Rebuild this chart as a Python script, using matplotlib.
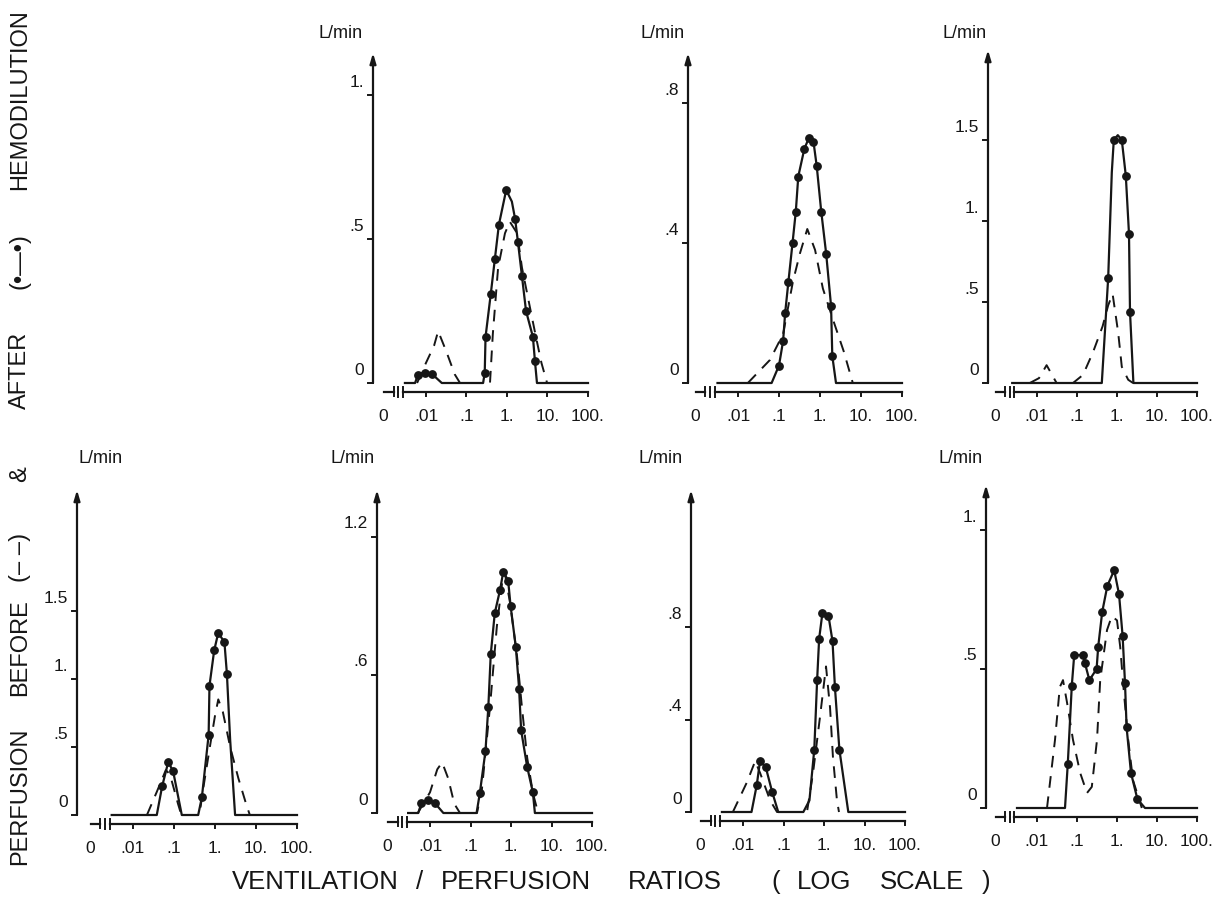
import numpy as np
import matplotlib
matplotlib.use('Agg')
import matplotlib.pyplot as plt

plt.rcParams['font.family'] = ['Liberation Sans', 'DejaVu Sans']

# x values are log10(V/Q), y values in L/min
# after hemodilution (solid line, dots where dot flag = 1), before (dashed)
t1_after_x = [-2.52, -2.27, -2.20, -2.02, -1.85, -1.61, -0.59, -0.55, -0.53, -0.40, -0.30, -0.20, -0.02, 0.12, 0.20, 0.27, 0.37, 0.47, 0.64, 0.69, 0.74, 2.0]
t1_after_y = [0, 0, .028, .035, .031, 0, 0, .035, .16, .31, .43, .55, .67, .63, .57, .49, .37, .25, .16, .076, 0, 0]
t1_after_dot = [0, 0, 1, 1, 1, 0, 0, 1, 1, 1, 1, 1, 1, 0, 1, 1, 1, 1, 1, 1, 0, 0]
t1_before_x = [-2.22, -2.0, -1.80, -1.70, -1.50, -1.29, -1.16, -0.42, -0.35, -0.22, -0.05, 0.07, 0.25, 0.37, 0.57, 0.70, 0.85, 0.99]
t1_before_y = [0, .07, .13, .18, .11, .03, 0, 0, .17, .40, .52, .56, .52, .40, .26, .17, .07, 0]

t2_after_x = [-2.50, -1.18, -1.00, -0.90, -0.85, -0.77, -0.67, -0.59, -0.53, -0.38, -0.27, -0.16, -0.08, 0.03, 0.15, 0.27, 0.30, 0.39, 2.0]
t2_after_y = [0, 0, .05, .12, .20, .29, .40, .49, .59, .67, .70, .69, .62, .49, .37, .22, .077, 0, 0]
t2_after_dot = [0, 0, 1, 1, 1, 1, 1, 1, 1, 1, 1, 1, 1, 1, 1, 1, 1, 0, 0]
t2_before_x = [-1.76, -1.22, -0.90, -0.66, -0.49, -0.31, -0.12, 0.07, 0.32, 0.58, 0.80]
t2_before_y = [0, .066, .14, .29, .37, .44, .38, .27, .18, .09, 0]

t3_after_x = [-2.62, -0.38, -0.22, -0.13, -0.08, 0.02, 0.12, 0.22, 0.30, 0.325, 0.41, 2.0]
t3_after_y = [0, 0, .65, 1.30, 1.50, 1.53, 1.50, 1.28, .92, .44, 0, 0]
t3_after_dot = [0, 0, 1, 0, 1, 0, 1, 1, 1, 1, 0, 0]
t3_before_x = [-2.18, -1.95, -1.76, -1.51, -1.10, -0.85, -0.60, -0.36, -0.22, -0.11, 0.03, 0.12, 0.28, 0.40]
t3_before_y = [0, .03, .11, 0, 0, .05, .19, .35, .48, .55, .31, .10, .02, 0]

b1_after_x = [-2.52, -1.42, -1.29, -1.14, -1.02, -0.81, -0.41, -0.32, -0.155, -0.135, -0.02, 0.08, 0.23, 0.29, 0.37, 0.49, 2.0]
b1_after_y = [0, 0, .21, .39, .32, 0, 0, .13, .59, .95, 1.21, 1.34, 1.27, 1.04, .55, 0, 0]
b1_after_dot = [0, 0, 1, 1, 1, 0, 0, 1, 1, 1, 1, 1, 1, 1, 0, 0, 0]
b1_before_x = [-1.66, -1.42, -1.20, -1.10, -0.90, -0.82, -0.38, -0.29, -0.12, 0.0, 0.08, 0.19, 0.37, 0.57, 0.77, 0.85]
b1_before_y = [0, .17, .33, .30, .08, 0, 0, .19, .51, .73, .85, .76, .50, .27, .07, 0]

b2_after_x = [-2.54, -2.29, -2.21, -2.04, -1.88, -1.67, -0.85, -0.77, -0.63, -0.56, -0.50, -0.40, -0.27, -0.19, -0.07, -0.01, 0.12, 0.20, 0.25, 0.40, 0.54, 0.59, 2.0]
b2_after_y = [0, 0, .045, .057, .043, 0, 0, .086, .27, .46, .69, .87, .97, 1.05, 1.01, .90, .72, .54, .36, .20, .09, 0, 0]
b2_after_dot = [0, 0, 1, 1, 1, 0, 0, 1, 1, 1, 1, 1, 1, 1, 1, 1, 1, 1, 1, 1, 1, 0, 0]
b2_before_x = [-2.30, -2.0, -1.82, -1.70, -1.55, -1.40, -1.26, -0.84, -0.72, -0.52, -0.35, -0.22, -0.15, -0.02, 0.15, 0.27, 0.40, 0.54, 0.67]
b2_before_y = [0, .09, .19, .22, .15, .04, 0, 0, .10, .46, .81, 1.0, 1.04, .91, .68, .46, .24, .087, 0]

b3_after_x = [-2.52, -1.79, -1.66, -1.58, -1.44, -1.28, -1.13, -0.51, -0.36, -0.24, -0.17, -0.12, -0.04, 0.11, 0.21, 0.27, 0.38, 0.60, 2.0]
b3_after_y = [0, 0, .117, .22, .195, .087, 0, 0, .05, .27, .57, .75, .86, .85, .74, .54, .27, 0, 0]
b3_after_dot = [0, 0, 1, 1, 1, 1, 0, 0, 0, 1, 1, 1, 1, 1, 1, 1, 1, 0, 0]
b3_before_x = [-2.25, -1.90, -1.70, -1.58, -1.33, -1.16, -0.42, -0.27, -0.10, 0.05, 0.15, 0.22, 0.32, 0.37]
b3_before_y = [0, .13, .22, .17, .05, 0, 0, .17, .41, .63, .45, .24, .05, 0]

b4_after_x = [-2.50, -1.30, -1.23, -1.13, -1.07, -0.84, -0.80, -0.69, -0.51, -0.47, -0.37, -0.24, -0.07, 0.05, 0.14, 0.20, 0.24, 0.35, 0.51, 0.70, 2.0]
b4_after_y = [0, 0, .16, .44, .55, .55, .52, .46, .50, .58, .705, .80, .855, .77, .62, .45, .29, .126, .032, 0, 0]
b4_after_dot = [0, 0, 1, 1, 1, 1, 1, 1, 1, 1, 1, 1, 1, 1, 1, 1, 1, 1, 1, 0, 0]
b4_before_x = [-1.75, -1.55, -1.43, -1.35, -1.25, -1.10, -0.92, -0.75, -0.63, -0.50, -0.42, -0.25, -0.13, 0.0, 0.08, 0.17, 0.28, 0.40, 0.62]
b4_before_y = [0, .245, .435, .46, .38, .245, .126, .054, .076, .245, .46, .64, .69, .675, .58, .42, .245, .10, 0]

# y ticks of each panel
t1_yticks, t1_ylabels = [0, .5, 1.0], ['0', '.5', '1.']
t2_yticks, t2_ylabels = [0, .4, .8], ['0', '.4', '.8']
t3_yticks, t3_ylabels = [0, .5, 1.0, 1.5], ['0', '.5', '1.', '1.5']
b1_yticks, b1_ylabels = [0, .5, 1.0, 1.5], ['0', '.5', '1.', '1.5']
b2_yticks, b2_ylabels = [0, .6, 1.2], ['0', '.6', '1.2']
b3_yticks, b3_ylabels = [0, .4, .8], ['0', '.4', '.8']
b4_yticks, b4_ylabels = [0, .5, 1.0], ['0', '.5', '1.']

x_ticks = [-2, -1, 0, 1, 2]
x_labels = ['.01', '.1', '1.', '10.', '100.']

INK = '#161616'
W, H = 1226, 905
fig = plt.figure(figsize=(W / 100, H / 100), dpi=100)
fig.patch.set_facecolor('white')


def draw_panel(geo, ax_x, ax_y, ax_dot, bf_x, bf_y, yticks, ylabels):
    # geo: pixel of .01, px per decade, pixel row of y=0, px per L/min, arrow top row, y-axis column
    p01, dec, py0, scale, ptop, yax = geo
    xl, xr = -3.75, 2.2
    left = p01 + (xl + 2) * dec
    bot = py0 + 45
    ax = fig.add_axes([left / W, 1 - bot / H, (xr - xl) * dec / W, (bot - ptop) / H])
    ax.set_xscale('log')
    ax.set_xlim(10 ** xl, 10 ** xr)
    ytop = (py0 - ptop) / scale
    ax.set_ylim(-45 / scale, ytop)
    ax.axis('off')

    def lx(px):
        return 10 ** (-2 + (px - p01) / dec)

    def dy(px):
        return px / scale

    kw = dict(color=INK, clip_on=False)
    # curves
    ax.plot(10 ** np.array(bf_x), bf_y, lw=1.4, ls=(0, (6, 4.5)), **kw)
    xa = 10 ** np.array(ax_x)
    ya = np.array(ax_y)
    m = np.array(ax_dot) == 1
    ax.plot(xa, ya, lw=1.6, solid_joinstyle='round', **kw)
    ax.plot(xa[m], ya[m], 'o', ms=5.3, mec=INK, mfc=INK, **kw)

    # y axis with arrow
    ax.annotate('', xy=(lx(yax), ytop), xytext=(lx(yax), 0),
                arrowprops=dict(arrowstyle='-|>,head_length=0.6,head_width=0.18',
                                lw=1.6, color=INK, shrinkA=0, shrinkB=0))
    for v, lab in zip(yticks, ylabels):
        ax.plot([lx(yax - 5), lx(yax)], [v, v], lw=1.4, **kw)
        ax.text(lx(yax - 9), v + dy(13), lab, ha='right', va='center', fontsize=12.5, color=INK)

    # x axis with break
    y0 = -dy(9)
    ax.plot([10 ** -3.03, 10 ** -2.8], [y0, y0], lw=1.6, **kw)
    ax.plot([10 ** -2.8, 10 ** -2.8], [y0 - dy(4), y0 + dy(5)], lw=1.4, **kw)
    for b in [-2.68, -2.57]:
        ax.plot([10 ** b, 10 ** b], [y0 - dy(5), y0 + dy(5)], lw=1.4, **kw)
    ax.plot([10 ** -2.57, 10 ** 2], [y0, y0], lw=1.6, **kw)
    for t, lab in zip(x_ticks, x_labels):
        ax.plot([10 ** t, 10 ** t], [y0, y0 - dy(4)], lw=1.4, **kw)
        ax.text(10 ** t, -dy(33), lab, ha='center', va='center', fontsize=12.5, color=INK)
    ax.text(10 ** -3.05, -dy(33), '0', ha='center', va='center', fontsize=12.5, color=INK)
    return ax


draw_panel((426, 40.5, 383, 288, 53, 373), t1_after_x, t1_after_y, t1_after_dot, t1_before_x, t1_before_y, t1_yticks, t1_ylabels)
draw_panel((738, 41, 383, 350, 53, 688), t2_after_x, t2_after_y, t2_after_dot, t2_before_x, t2_before_y, t2_yticks, t2_ylabels)
draw_panel((1037, 40, 383, 162, 50, 988), t3_after_x, t3_after_y, t3_after_dot, t3_before_x, t3_before_y, t3_yticks, t3_ylabels)
draw_panel((133, 41, 815, 136, 490, 77), b1_after_x, b1_after_y, b1_after_dot, b1_before_x, b1_before_y, b1_yticks, b1_ylabels)
draw_panel((430, 40.5, 813, 230, 490, 377), b2_after_x, b2_after_y, b2_after_dot, b2_before_x, b2_before_y, b2_yticks, b2_ylabels)
draw_panel((743, 40.5, 812, 231, 490, 691), b3_after_x, b3_after_y, b3_after_dot, b3_before_x, b3_before_y, b3_yticks, b3_ylabels)
draw_panel((1037, 40, 808, 278, 485, 986), b4_after_x, b4_after_y, b4_after_dot, b4_before_x, b4_before_y, b4_yticks, b4_ylabels)

# L/min unit labels
for xr_px, yc_px in [(363, 33), (685, 33), (987, 33), (123, 458), (375, 458), (683, 458), (983, 458)]:
    fig.text(xr_px / W, 1 - yc_px / H, 'L/min', ha='right', va='center', fontsize=13, color=INK)

# rotated left label, placed word by word
for txt, yc in [('HEMODILUTION', 100), ('(•—•)', 261), ('AFTER', 370), ('&', 474),
                ('(– –)', 557), ('BEFORE', 648), ('PERFUSION', 796)]:
    fig.text(20 / W, 1 - yc / H, txt, rotation=90, ha='center', va='center', fontsize=17, color=INK)

# bottom label, word by word (the original is widely letter-spaced)
for txt, xc in [('VENTILATION', 315), ('/', 420), ('PERFUSION', 516), ('RATIOS', 675),
                ('(', 776), ('LOG', 824), ('SCALE', 922), (')', 986)]:
    fig.text(xc / W, 1 - 882 / H, txt, ha='center', va='center', fontsize=18.5, color=INK)

fig.savefig('out.png', dpi=100, facecolor='white')
